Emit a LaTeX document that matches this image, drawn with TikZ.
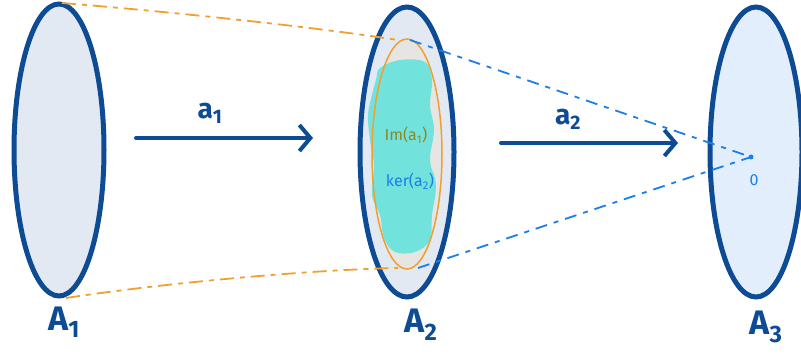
\documentclass[tikz,border=0pt]{standalone}
\usepackage{fontspec}
\setsansfont{Fira Sans}
\usetikzlibrary{arrows.meta}
\definecolor{dblue}{HTML}{0D4B94}
\definecolor{fillA}{HTML}{E3E9F2}
\definecolor{fillC}{HTML}{E2EEFC}
\definecolor{inner}{HTML}{E7E5E1}
\definecolor{cyanblob}{HTML}{72E2DD}
\definecolor{orng}{HTML}{F0A030}
\definecolor{lblue}{HTML}{1C7EEA}
\definecolor{olive}{HTML}{8C8A1E}
\tikzset{
  setell/.style={draw=dblue, line width=5pt},
  maparrow/.style={draw=dblue, line width=4pt, line cap=round, -{Straight Barb[length=11pt,width=26pt,line width=4pt]}},
  maplabel/.style={text=dblue, font=\sffamily\bfseries\fontsize{28}{28}\selectfont},
  setlabel/.style={text=dblue, font=\sffamily\bfseries\fontsize{34}{34}\selectfont},
  odash/.style={draw=orng, line width=1.8pt, dash pattern=on 14pt off 6pt on 5pt off 6pt},
  bdash/.style={draw=lblue, line width=1.8pt, dash pattern=on 12pt off 7pt on 5pt off 7pt},
  intext/.style={font=\sffamily\fontsize{16}{16}\selectfont},
}
\begin{document}
\begin{tikzpicture}[x=1pt,y=-1pt]
\useasboundingbox (0,0) rectangle (801,358);
% ellipses
\draw[setell, fill=fillA] (59,150) ellipse [x radius=45, y radius=146];
\draw[setell, fill=fillA] (407,152) ellipse [x radius=47, y radius=145];
\draw[setell, fill=fillC] (756,152) ellipse [x radius=46, y radius=145];
% inner image ellipse
\fill[inner] (407,154) ellipse [x radius=35, y radius=115];
\begin{scope}
\clip (407,154) ellipse [x radius=44, y radius=140];
\fill[cyanblob] plot[smooth cycle, tension=0.6] coordinates {
 (380,68) (400,60) (425,62) (432,80) (430,105) (434,130) (430,160)
 (436,185) (432,215) (430,240) (415,252) (395,252) (384,238) (380,215)
 (372,195) (374,165) (370,140) (368,115) (372,95) (376,80)};
\end{scope}
\draw[orng, line width=1.5pt] (407,154) ellipse [x radius=35, y radius=115];
% texts
\node[text=olive, intext] (im) at (406,135) {Im(a\textsubscript{1})};
\node[text=lblue, intext] (ker) at (410,181) {ker(a\textsubscript{2})};
% coordinates
\coordinate (a1top) at (62,3);
\coordinate (a1bot) at (66,298);
\coordinate (a2ot) at (398,40);
\coordinate (a2ob) at (398,268);
\coordinate (a2bt) at (410,40);
\coordinate (a2bb) at (418,268);
\coordinate (zero) at (751,157);
% dashed lines
\draw[odash] (a1top) .. controls (150,10) and (300,25) .. (a2ot);
\draw[odash] (a1bot) .. controls (150,285) and (300,270) .. (a2ob);
\draw[bdash] (a2bt) -- (zero);
\draw[bdash] (a2bb) -- (zero);
\fill[lblue] (zero) circle (2.5pt);
\node[text=lblue, intext] (zlab) at (754,180) {0};
% arrows
\coordinate (s1) at (136,138);
\coordinate (e1) at (313,138);
\coordinate (s2) at (501,143);
\coordinate (e2) at (678,143);
\draw[maparrow] (s1) -- (e1);
\draw[maparrow] (s2) -- (e2);
\node[maplabel] (l1) at (210,113) {a\textsubscript{1}};
\node[maplabel] (l2) at (568,119) {a\textsubscript{2}};
% set labels
\node[setlabel] (A1) at (64,322) {A\textsubscript{1}};
\node[setlabel] (A2) at (421,325) {A\textsubscript{2}};
\node[setlabel] (A3) at (766,327) {A\textsubscript{3}};
\end{tikzpicture}
\end{document}
